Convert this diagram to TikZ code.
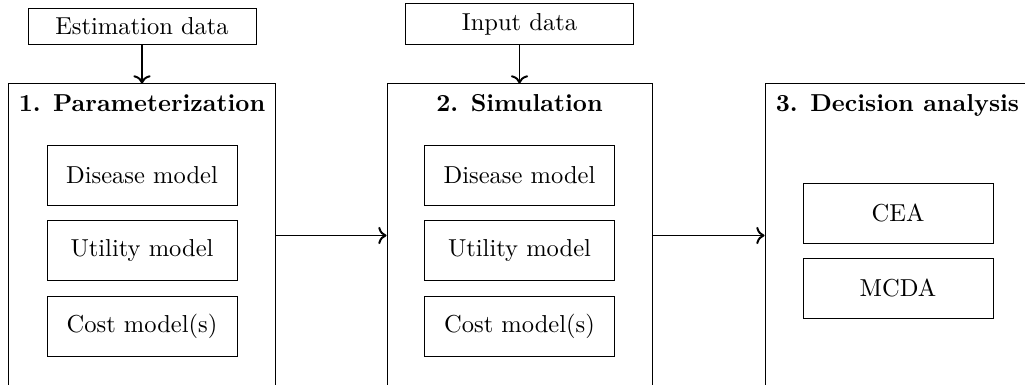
\documentclass[tikz,border=0pt]{standalone}
\usetikzlibrary{arrows.meta}
\def\u{0.408pt}
\begin{document}
\begin{tikzpicture}[x=\u,y=-\u,
  databox/.style={draw,rectangle,minimum width={228*\u},inner xsep=2pt,inner ysep=3.9pt,anchor=south},
  stagebox/.style={draw,rectangle,minimum width={265*\u},minimum height={303*\u}},
  subbox/.style={draw,rectangle,minimum width={190*\u},minimum height={60*\u}},
  title/.style={anchor=base,font=\bfseries},
  flow/.style={thick,->}]
\clip (0,0) rectangle (1025,385);
\node[databox] (est) at (142,45) {Estimation data};
\node[databox] (inp) at (519.5,45) {Input data};
\node[stagebox,minimum width={267*\u}] (s1) at (142,235.5) {};
\node[stagebox] (s2) at (519.5,235.5) {};
\node[stagebox] (s3) at (897.5,235.5) {};
\node[title] (t1) at (142,112) {1. Parameterization};
\node[title] (t2) at (519.5,112) {2. Simulation};
\node[title] (t3) at (897.5,112) {3. Decision analysis};
\node[subbox] (d1) at (142,175) {Disease model};
\node[subbox] (u1) at (142,250.5) {Utility model};
\node[subbox] (c1) at (142,326) {Cost model(s)};
\node[subbox] (d2) at (519.5,175) {Disease model};
\node[subbox] (u2) at (519.5,250.5) {Utility model};
\node[subbox] (c2) at (519.5,326) {Cost model(s)};
\node[subbox] (cea) at (898,213) {CEA};
\node[subbox] (mcda) at (898,288) {MCDA};
\draw[flow] (est.south) -- (s1.north);
\draw[flow] (inp.south) -- (s2.north);
\draw[flow] (s1.east) -- (s2.west);
\draw[flow] (s2.east) -- (s3.west);
\end{tikzpicture}
\end{document}
